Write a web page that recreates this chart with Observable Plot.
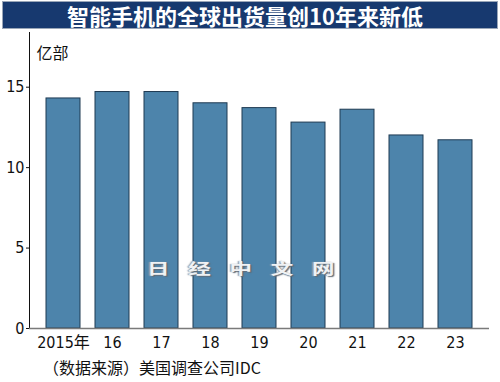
<!DOCTYPE html>
<html>
<head>
<meta charset="utf-8">
<script src="https://cdn.jsdelivr.net/npm/d3@7"></script>
<script src="https://cdn.jsdelivr.net/npm/@observablehq/plot@0.6"></script>
<style>
  html, body { margin: 0; padding: 0; background: #fff; }
  #wrap { position: relative; width: 500px; height: 382px; overflow: hidden; }
  #title {
    position: absolute; left: 2px; top: 1px; width: 496px; height: 28px;
    background: #17396f; color: #fff; box-sizing: border-box;
    border: 1px solid #9aa6b8;
    display: flex; align-items: center; justify-content: center;
    font: bold 22px "Noto Sans CJK SC", sans-serif; line-height: 24px;
    padding-right: 10px; white-space: nowrap;
  }
  #chart { position: absolute; left: 0; top: 30px; }
  #caption {
    position: absolute; left: 43px; top: 357px;
    font: 16px "Liberation Sans Narrow", "Noto Sans CJK SC", sans-serif; color: #111;
    line-height: 20px; white-space: nowrap;
  }
  #wm {
    position: absolute; left: 147px; top: 259px;
    font: bold 15px "Noto Sans CJK SC", sans-serif; color: #f0f2f4;
    letter-spacing: 12.5px; white-space: nowrap; line-height: 18px;
    transform: scaleX(1.5); transform-origin: left center;
    text-shadow: 1px 1px 1px #5f6a74, -1px 0 1px #9aa4ad;
  }
</style>
</head>
<body>
<div id="wrap">
  <div id="title">智能手机的全球出货量创10年来新低</div>
  <div id="chart"></div>
  <div id="caption">（数据来源）美国调查公司IDC</div>
  <div id="wm">日经中文网</div>
</div>
<script>
const years = ["2015年", "16", "17", "18", "19", "20", "21", "22", "23"];
const shipments = [14.3, 14.7, 14.7, 14.0, 13.7, 12.8, 13.6, 12.0, 11.7];
const yTicks = [0, 5, 10, 15];
const unitLabel = "亿部";

const data = years.map((y, i) => ({year: y, value: shipments[i]}));
const font = '"Liberation Sans Narrow", "DejaVu Sans Condensed", "Noto Sans CJK SC", sans-serif';

const chart = Plot.plot({
  width: 500,
  height: 323,
  marginTop: 2,
  marginLeft: 29,
  marginRight: 11,
  marginBottom: 25,
  style: {fontFamily: font, fontSize: "16px", color: "#111", background: "transparent"},
  x: {domain: years, padding: 0.31, label: null, tickSize: 0, tickPadding: 8},
  y: {domain: [0, 18.4], ticks: yTicks, label: null, tickSize: 3, tickPadding: 2, line: true},
  marks: [
    Plot.barY(data, {x: "year", y: "value", fill: "#4d84ab", stroke: "#1f3a52", strokeWidth: 1}),
    Plot.ruleY([0], {stroke: "#7a7a7a", strokeWidth: 1.5}),
    Plot.text([unitLabel], {frameAnchor: "top-left", dx: 7, dy: 21, lineAnchor: "middle", textAnchor: "start", fontSize: 16, fill: "#111"})
  ]
});
document.getElementById("chart").appendChild(chart);
</script>
</body>
</html>
